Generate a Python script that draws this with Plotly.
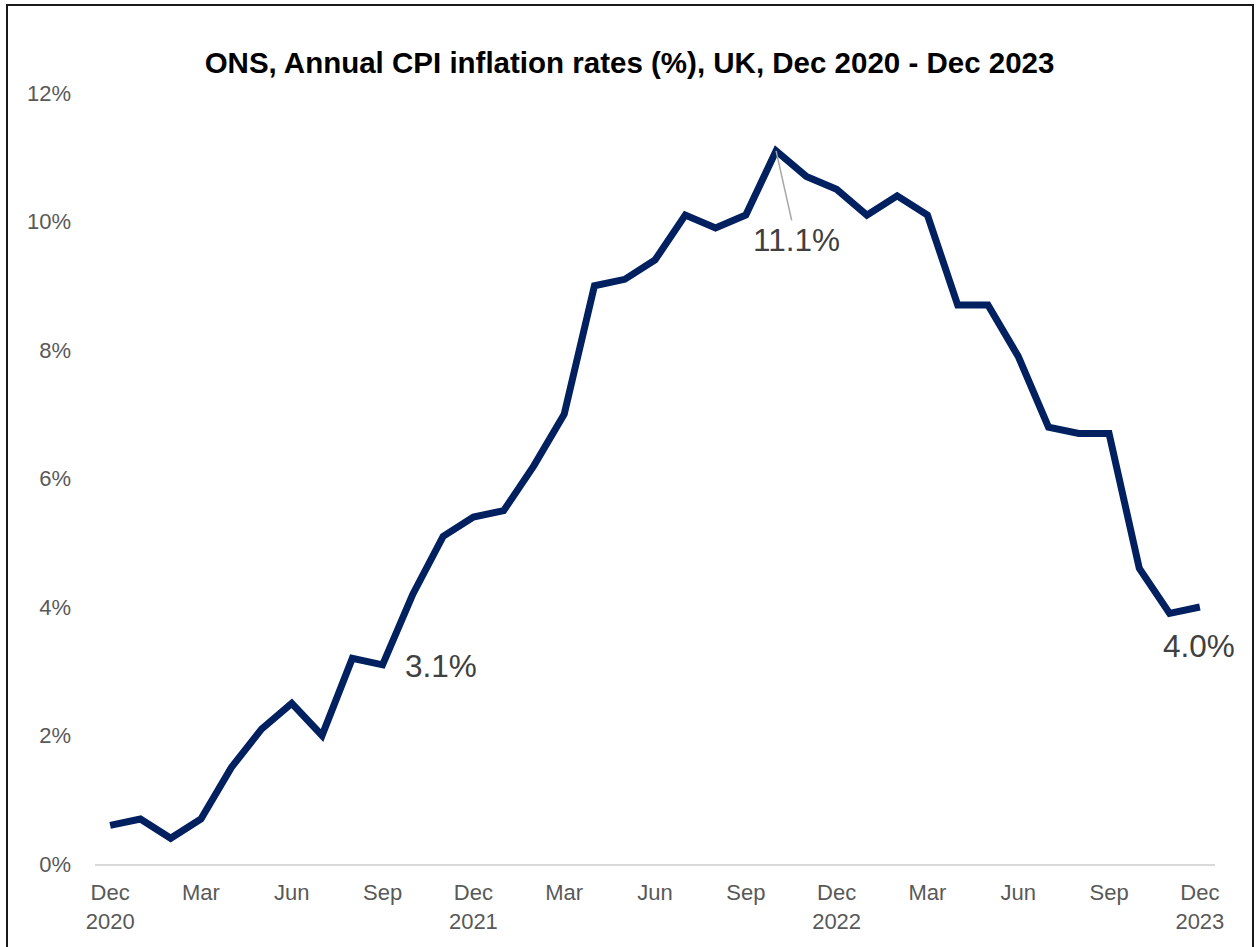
import plotly.graph_objects as go

months = ["Dec 2020", "Jan 2021", "Feb 2021", "Mar 2021", "Apr 2021", "May 2021", "Jun 2021",
          "Jul 2021", "Aug 2021", "Sep 2021", "Oct 2021", "Nov 2021", "Dec 2021",
          "Jan 2022", "Feb 2022", "Mar 2022", "Apr 2022", "May 2022", "Jun 2022",
          "Jul 2022", "Aug 2022", "Sep 2022", "Oct 2022", "Nov 2022", "Dec 2022",
          "Jan 2023", "Feb 2023", "Mar 2023", "Apr 2023", "May 2023", "Jun 2023",
          "Jul 2023", "Aug 2023", "Sep 2023", "Oct 2023", "Nov 2023", "Dec 2023"]
cpi = [0.6, 0.7, 0.4, 0.7, 1.5, 2.1, 2.5, 2.0, 3.2, 3.1, 4.2, 5.1, 5.4,
       5.5, 6.2, 7.0, 9.0, 9.1, 9.4, 10.1, 9.9, 10.1, 11.1, 10.7, 10.5,
       10.1, 10.4, 10.1, 8.7, 8.7, 7.9, 6.8, 6.7, 6.7, 4.6, 3.9, 4.0]

tick_months = ["Dec 2020", "Mar 2021", "Jun 2021", "Sep 2021", "Dec 2021", "Mar 2022",
               "Jun 2022", "Sep 2022", "Dec 2022", "Mar 2023", "Jun 2023", "Sep 2023", "Dec 2023"]
tick_text = ["Dec<br>2020", "Mar", "Jun", "Sep", "Dec<br>2021", "Mar", "Jun", "Sep",
             "Dec<br>2022", "Mar", "Jun", "Sep", "Dec<br>2023"]
y_ticks = [0, 2, 4, 6, 8, 10, 12]
y_tick_text = ["0%", "2%", "4%", "6%", "8%", "10%", "12%"]

FONT = "Liberation Sans, Arial, sans-serif"
W, H = 1257, 947
L, R, T, B = 95, 42, 93, 83

fig = go.Figure()
fig.add_trace(go.Scatter(x=months, y=cpi, mode="lines",
                         line=dict(color="#002060", width=7, shape="linear"),
                         hoverinfo="x+y"))

fig.update_layout(
    width=W, height=H,
    margin=dict(l=L, r=R, t=T, b=B),
    paper_bgcolor="white", plot_bgcolor="white",
    showlegend=False,
    font=dict(family=FONT, color="#595959"),
    title=dict(text="<b>ONS, Annual CPI inflation rates (%), UK, Dec 2020 - Dec 2023</b>",
               x=(206 + 1053) / 2 / W, xanchor="center", xref="container",
               y=1 - 63 / H, yanchor="middle", yref="container",
               font=dict(family=FONT, size=29.5, color="black")),
    xaxis=dict(type="category", categoryorder="array", categoryarray=months,
               range=[-0.5, len(months) - 0.5],
               tickmode="array", tickvals=tick_months, ticktext=tick_text,
               showgrid=False, zeroline=False,
               showline=True, linecolor="#d9d9d9", linewidth=1.5,
               ticks="", tickfont=dict(size=22, color="#595959"),
               ticklabelstandoff=8),
    yaxis=dict(range=[0, 12], tickmode="array", tickvals=y_ticks, ticktext=y_tick_text,
               showgrid=False, zeroline=False, showline=False, ticks="",
               tickfont=dict(size=22, color="#595959"), ticklabelstandoff=23),
)

# leader-line label at the peak
peak_i = cpi.index(max(cpi))
fig.add_annotation(x=months[peak_i], y=cpi[peak_i], text=f"{cpi[peak_i]:.1f}%",
                   showarrow=True, arrowhead=0, arrowwidth=1.5, arrowcolor="#a6a6a6",
                   standoff=0, ax=20, ay=89,
                   font=dict(family=FONT, size=31.5, color="#404040"))
sep_i = months.index("Sep 2021")
fig.add_annotation(x=months[sep_i], y=cpi[sep_i], text=f"{cpi[sep_i]:.1f}%", showarrow=False,
                   xanchor="left", yanchor="middle", xshift=20, yshift=-1,
                   font=dict(family=FONT, size=31.5, color="#404040"))
last_i = len(cpi) - 1
fig.add_annotation(x=months[last_i], y=cpi[last_i], text=f"{cpi[last_i]:.1f}%", showarrow=False,
                   xanchor="center", yanchor="middle", xshift=-0.5, yshift=-39,
                   font=dict(family=FONT, size=31.5, color="#404040"))

# outer chart border
pw, ph = W - L - R, H - T - B
fig.add_shape(type="rect", xref="paper", yref="paper",
              x0=(7 - L) / pw, x1=(1253 - L) / pw,
              y0=(H - B - 960) / ph, y1=(H - B - 5) / ph,
              line=dict(color="#1a1a1a", width=2), fillcolor="rgba(0,0,0,0)", layer="below")

fig.write_html("out.html")
